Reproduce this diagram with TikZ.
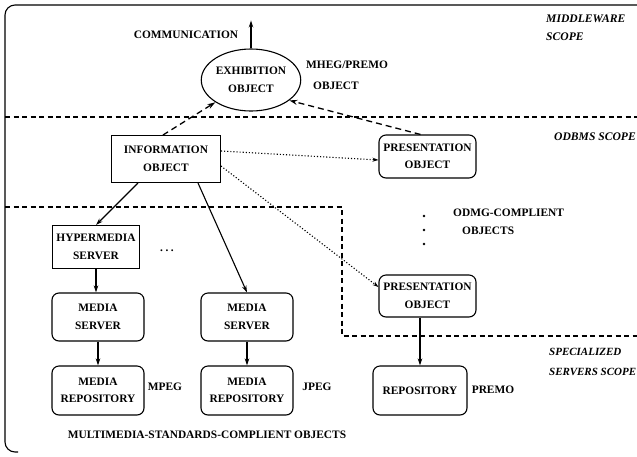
\documentclass[tikz,border=0pt]{standalone}
\usepackage{fontspec}
\setmainfont{Liberation Serif}
\usetikzlibrary{arrows.meta,calc,shapes.geometric}
\tikzset{
  lbl/.style={font=\fontsize{11.4}{17.5}\selectfont\bfseries, inner sep=0pt, align=center},
  scopelbl/.style={font=\fontsize{11.6}{18}\selectfont\bfseries\itshape, inner sep=0pt, align=left, anchor=west},
  sqbox/.style={draw, line width=1pt, rectangle, lbl},
  rbox/.style={draw, line width=1.1pt, rectangle, rounded corners=7pt, lbl},
  arr/.style={line width=1.1pt, -{Stealth[length=7pt,width=4.5pt]}},
  darr/.style={line width=1.3pt, dash pattern=on 6pt off 4pt, -{Stealth[length=8pt,width=5pt]}},
  dotarr/.style={line width=1.1pt, dotted, -{Stealth[length=6pt,width=4pt]}},
  scopeline/.style={line width=1.1pt, dash pattern=on 5pt off 3.5pt}
}
\begin{document}
\begin{tikzpicture}[x=1pt,y=-1pt]
\useasboundingbox (0,0) rectangle (637,456);
% frame
\draw[line width=1.1pt, rounded corners=10pt] (637,5) -- (5,5) -- (5,452) -- (18,452);
% scope lines
\draw[scopeline] (5,117) -- (637,117);
\draw[scopeline] (5,207) -- (342,207) -- (342,336) -- (637,336);

% nodes
\node[draw, line width=1.1pt, ellipse, minimum width=94pt, minimum height=62pt, lbl] (ex) at (251,80) {EXHIBITION\\OBJECT};
\node[sqbox, minimum width=109pt, minimum height=47pt] (info) at (166,159) {INFORMATION\\OBJECT};
\node[rbox, minimum width=97pt, minimum height=43pt] (pres1) at (427.5,156.5) {PRESENTATION\\OBJECT};
\node[rbox, minimum width=97pt, minimum height=42pt] (pres2) at (427.5,296) {PRESENTATION\\OBJECT};
\node[rbox, minimum width=94pt, minimum height=49pt] (repo) at (420,390.5) {REPOSITORY};
\node[sqbox, minimum width=87pt, minimum height=43pt] (hyper) at (96,247) {HYPERMEDIA\\SERVER};
\node[rbox, minimum width=92pt, minimum height=48pt] (ms1) at (98,317) {MEDIA\\SERVER};
\node[rbox, minimum width=92pt, minimum height=48pt] (ms2) at (247,317) {MEDIA\\SERVER};
\node[rbox, minimum width=92pt, minimum height=49pt] (mr1) at (98,390.5) {MEDIA\\REPOSITORY};
\node[rbox, minimum width=92pt, minimum height=49pt] (mr2) at (247,390.5) {MEDIA\\REPOSITORY};

% labels
\node[lbl] (comm) at (186,35) {COMMUNICATION};
\node[lbl, align=left, anchor=west, font=\fontsize{11.4}{21}\selectfont\bfseries] (mheg) at (306,75) {MHEG/PREMO\\\hspace{7pt}OBJECT};
\node[scopelbl] (mw) at (546,28) {MIDDLEWARE\\SCOPE};
\node[scopelbl] (odbms) at (554,137) {ODBMS SCOPE};
\node[lbl, align=left, anchor=west] (odmg) at (453,222) {ODMG-COMPLIENT\\\hspace{9pt}OBJECTS};
\node[scopelbl, font=\fontsize{11}{20}\selectfont\bfseries\itshape] (spec) at (549,362) {SPECIALIZED\\SERVERS SCOPE};
\node[lbl] (dots) at (167,251) {.\hspace{2.5pt}.\hspace{2.5pt}.};
\node[lbl] (mpeg) at (165,387) {MPEG};
\node[lbl] (jpeg) at (317,387) {JPEG};
\node[lbl] (premo) at (493,390) {PREMO};
\node[lbl] (multi) at (207,435) {MULTIMEDIA-STANDARDS-COMPLIENT OBJECTS};
\fill (424,216) circle (1.4pt) (424,230) circle (1.4pt) (424,244) circle (1.4pt);

% connectors
\draw[arr] (ex.north) -- ++(0,-28);
\draw[darr] ($(info.north)+(-3,0)$) -- (ex.212);
\draw[darr] ($(pres1.north)+(-7,0)$) -- (ex.-28);
\draw[dotarr] ($(info.east)+(0,-8)$) -- ($(pres1.west)+(0,3.5)$);
\draw[dotarr] ($(info.east)+(0,7)$) -- ($(pres2.west)+(0,-9)$);
\draw[arr] ($(info.south)+(-28,0)$) -- (hyper.north);
\draw[arr] ($(info.south)+(32,0)$) -- (ms2.north);
\draw[arr] (hyper.south) -- (hyper.south |- ms1.north);
\draw[arr] (ms1.south) -- (mr1.north);
\draw[arr] (ms2.south) -- (mr2.north);
\draw[arr] (pres2.south -| repo.north) -- (repo.north);
\end{tikzpicture}
\end{document}
